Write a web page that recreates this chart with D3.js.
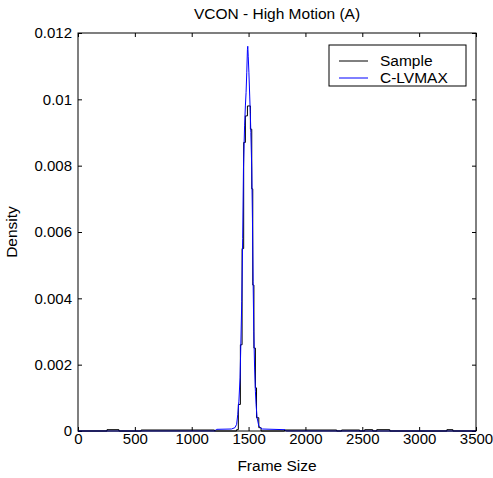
<!DOCTYPE html>
<html>
<head>
<meta charset="utf-8">
<script src="https://cdn.jsdelivr.net/npm/d3@7"></script>
<style>
  body { margin: 0; background: #fff; }
  svg { font-family: "Liberation Sans", Arial, sans-serif; }
  .tick text { font-size: 15px; fill: #000; }
  .tick line { stroke: #000; }
</style>
</head>
<body>
<div class="container"></div>
<script>
// ----- data -----
var xTicks = [0, 500, 1000, 1500, 2000, 2500, 3000, 3500];
var yTicks = [0, 0.002, 0.004, 0.006, 0.008, 0.010, 0.012];
var yTickLabels = ["0", "0.002", "0.004", "0.006", "0.008", "0.01", "0.012"];

// Sample: histogram, bin left edges + density of each bin (last edge closes)
var sampleEdges = [0, 255, 360, 555, 1200, 1395, 1410, 1428, 1443, 1457, 1472, 1490,
  1516, 1528, 1537, 1547, 1560, 1570, 1590, 1610, 1816, 2275, 2318, 2477, 2521,
  2592, 2627, 2742, 3244, 3297, 3500];
var sampleDensity = [0, 0.00004, 0, 0.00003, 0, 0.00004, 0.0008, 0.0026, 0.0055,
  0.0087, 0.0095, 0.0098, 0.0091, 0.0073, 0.0044, 0.0025, 0.0013, 0.0004, 0.0001,
  0, 0.00003, 0, 0.00003, 0, 0.00004, 0, 0.00004, 0, 0.00004, 0];

// C-LVMAX: fitted density curve
var fitX = [0, 1200, 1220, 1350, 1380, 1395, 1405, 1415, 1425, 1432, 1440, 1448,
  1455, 1465, 1472, 1478, 1484, 1490, 1493, 1497, 1503, 1510, 1515, 1520, 1528,
  1534, 1540, 1546, 1553, 1560, 1566, 1575, 1590, 1605, 1620, 1820, 1830, 3500];
var fitDensity = [0, 0, 0.00005, 0.00006, 0.0001, 0.0002, 0.0005, 0.0009, 0.0016,
  0.0026, 0.0039, 0.0058, 0.0079, 0.0092, 0.0098, 0.0102, 0.0108, 0.0115, 0.0116,
  0.0113, 0.0108, 0.0101, 0.0096, 0.0090, 0.0079, 0.0064, 0.0045, 0.0030, 0.0019,
  0.0012, 0.0008, 0.0004, 0.00015, 0.0001, 0.00006, 0.00004, 0, 0];

var seriesNames = ["Sample", "C-LVMAX"];
var seriesColors = ["#000000", "#0000ff"];

// ----- layout -----
var width = 493, height = 478;
var plotL = 78, plotR = 476, plotT = 33, plotB = 431;

var svg = d3.select(".container").append("svg")
  .attr("width", width)
  .attr("height", height);

var x = d3.scaleLinear().domain([0, 3500]).range([plotL, plotR]);
var y = d3.scaleLinear().domain([0, 0.012]).range([plotB, plotT]);

// axes (ticks pointing inward, like matlab)
svg.append("g")
  .attr("transform", "translate(0," + plotB + ")")
  .call(d3.axisBottom(x).tickValues(xTicks).tickSizeInner(-4).tickSizeOuter(0).tickPadding(2)
    .tickFormat(d => String(d)))
  .call(g => g.select(".domain").remove());

svg.append("g")
  .attr("transform", "translate(0," + plotT + ")")
  .call(d3.axisTop(x).tickValues(xTicks).tickSizeInner(-4).tickSizeOuter(0).tickFormat(""))
  .call(g => g.select(".domain").remove());

svg.append("g")
  .attr("transform", "translate(" + plotL + ",0)")
  .call(d3.axisLeft(y).tickValues(yTicks).tickSizeInner(-4).tickSizeOuter(0).tickPadding(6)
    .tickFormat((d, i) => yTickLabels[i]))
  .call(g => g.select(".domain").remove());

svg.append("g")
  .attr("transform", "translate(" + plotR + ",0)")
  .call(d3.axisRight(y).tickValues(yTicks).tickSizeInner(-4).tickSizeOuter(0).tickFormat(""))
  .call(g => g.select(".domain").remove());

// sample histogram as a step line
var samplePts = sampleEdges.map((e, i) => [e, i < sampleDensity.length ? sampleDensity[i] : 0]);
var stepLine = d3.line().x(d => x(d[0])).y(d => y(d[1])).curve(d3.curveStepAfter);
svg.append("path")
  .attr("d", stepLine(samplePts))
  .attr("fill", "none")
  .attr("stroke", seriesColors[0])
  .attr("stroke-width", 1);

// fitted curve
var fitLine = d3.line().x((d, i) => x(fitX[i])).y(d => y(d));
svg.append("path")
  .attr("d", fitLine(fitDensity))
  .attr("fill", "none")
  .attr("stroke", seriesColors[1])
  .attr("stroke-width", 1);

// plot box
svg.append("rect")
  .attr("x", plotL).attr("y", plotT)
  .attr("width", plotR - plotL).attr("height", plotB - plotT)
  .attr("fill", "none").attr("stroke", "#000").attr("stroke-width", 1);

// title and axis labels
svg.append("text")
  .attr("x", (plotL + plotR) / 2).attr("y", 19)
  .attr("text-anchor", "middle").attr("font-size", 15.5)
  .text("VCON - High Motion (A)");

svg.append("text")
  .attr("x", (plotL + plotR) / 2).attr("y", 471)
  .attr("text-anchor", "middle").attr("font-size", 15.5)
  .text("Frame Size");

svg.append("text")
  .attr("transform", "translate(17," + (plotT + plotB) / 2 + ") rotate(-90)")
  .attr("text-anchor", "middle").attr("font-size", 15.5)
  .text("Density");

// legend
var legend = svg.append("g");
legend.append("rect")
  .attr("x", 329).attr("y", 45).attr("width", 137).attr("height", 41)
  .attr("fill", "#fff").attr("stroke", "#000").attr("stroke-width", 1);

seriesNames.forEach(function (name, i) {
  var ly = 61 + i * 17;
  legend.append("line")
    .attr("x1", 339).attr("x2", 368).attr("y1", ly).attr("y2", ly)
    .attr("stroke", seriesColors[i]).attr("stroke-width", 1);
  legend.append("text")
    .attr("x", 380).attr("y", ly).attr("dy", "0.35em")
    .attr("font-size", 15.5)
    .text(name);
});
</script>
</body>
</html>
